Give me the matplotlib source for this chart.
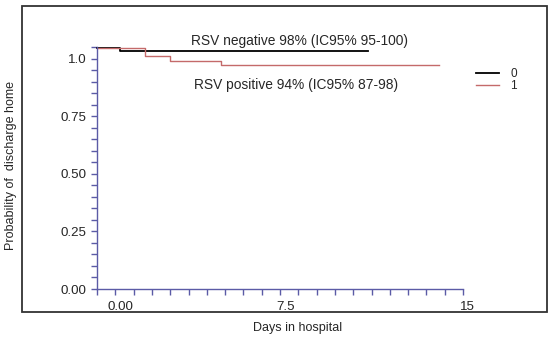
import matplotlib
matplotlib.use('Agg')
import matplotlib.pyplot as plt
from matplotlib.patches import Rectangle
from matplotlib.transforms import ScaledTranslation
import numpy as np

plt.rcParams['font.family'] = ['Liberation Sans', 'DejaVu Sans']

# Kaplan-Meier style steps
neg_days = [0, 0.95, 11.1]
neg_prob = [1.045, 1.031, 1.031]
pos_days = [0, 1.97, 3.0, 5.1, 14.0]
pos_prob = [1.045, 1.01, 0.99, 0.974, 0.974]

x_ticks = [0, 7.5, 15]
x_labels = ['0.00', '7.5', '15']
y_ticks = [0, 0.25, 0.5, 0.75, 1.0]
y_labels = ['0.00', '0.25', '0.50', '0.75', '1.0']

axis_col = '#5b5ba6'
text_col = '#262626'
red = '#c46a6a'

W, H = 550, 343
fig = plt.figure(figsize=(W / 100, H / 100), dpi=100)
ax = fig.add_axes([97 / W, (H - 289) / H, (463 - 97) / W, (289 - 47) / H])

ax.step(neg_days, neg_prob, where='post', color='black', lw=1.3, label='0', clip_on=False)
ax.step(pos_days, pos_prob, where='post', color=red, lw=1.0, label='1', clip_on=False)

ax.set_xlim(0, 15)
ax.set_ylim(0, 1.05)
for s in ['top', 'right']:
    ax.spines[s].set_visible(False)
for s in ['left', 'bottom']:
    ax.spines[s].set_color(axis_col)
    ax.spines[s].set_linewidth(1.0)

ax.set_xticks(x_ticks)
ax.set_xticklabels(x_labels)
ax.set_xticks(np.arange(0, 15.01, 0.75), minor=True)
ax.set_yticks(y_ticks)
ax.set_yticklabels(y_labels)
ax.set_yticks(np.arange(0, 1.051, 0.05), minor=True)
ax.tick_params(which='both', direction='out', length=4.5, width=1.0, color=axis_col,
               labelsize=9.6, labelcolor=text_col)
ax.tick_params(axis='x', pad=4)
ax.tick_params(axis='y', pad=3)

# the labels sit a little right of their ticks in the original
for lab, dx in zip(ax.get_xticklabels(), [23, 6, 4]):
    lab.set_transform(lab.get_transform() + ScaledTranslation(dx / 100, 0, fig.dpi_scale_trans))

ax.text(8.3, 1.078, 'RSV negative 98% (IC95% 95-100)', ha='center', va='center',
        fontsize=9.9, color=text_col, clip_on=False)
ax.text(8.15, 0.883, 'RSV positive 94% (IC95% 87-98)', ha='center', va='center',
        fontsize=9.9, color=text_col)

ax.legend(frameon=False, loc='upper left', bbox_to_anchor=(1.035, 0.912),
          borderpad=0, borderaxespad=0, fontsize=8.5, handlelength=2.0,
          handletextpad=0.9, labelspacing=-0.05, labelcolor=text_col)

fig.text(298 / W, 1 - 328 / H, 'Days in hospital', ha='center', va='center',
         fontsize=9, color=text_col)
fig.text(11 / W, 1 - 165 / H, 'Probability of  discharge home', ha='center', va='center',
         rotation=90, fontsize=9, color=text_col)

fig.patches.append(Rectangle((22 / W, 1 - 312 / H), (547 - 22) / W, (312 - 6) / H,
                             transform=fig.transFigure, fill=False,
                             edgecolor='#333333', lw=1.3))

fig.savefig('out.png', dpi=100)
